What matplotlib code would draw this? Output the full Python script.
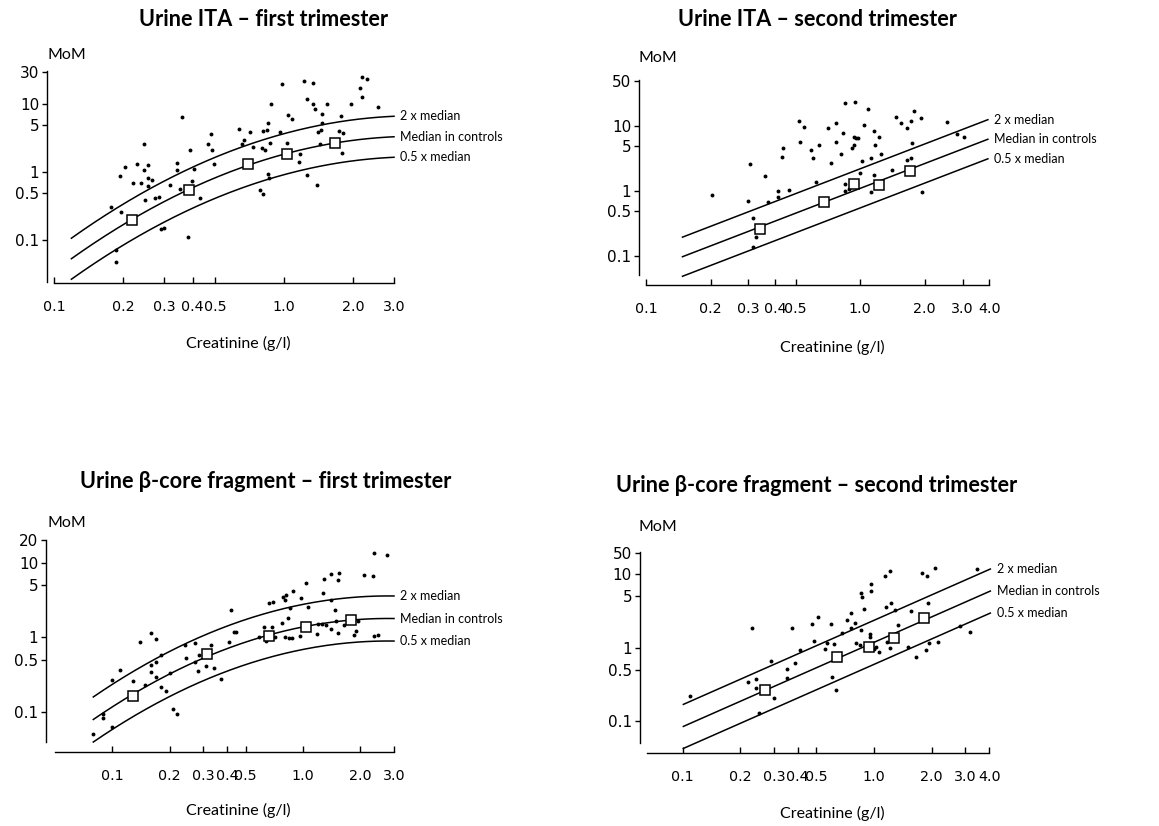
# headless plotting
import matplotlib  # nopep8
matplotlib.use('Agg')  # nopep8

import numpy as np
import matplotlib.pyplot as plt

FIG_W, FIG_H = 1159, 826

# ---- Urine ITA, first trimester
ita1_x = [0.177, 0.186, 0.186, 0.194, 0.196, 0.204, 0.221, 0.230, 0.238, 0.247,
          0.247, 0.248, 0.257, 0.257, 0.257, 0.266, 0.274, 0.285, 0.292, 0.301,
          0.319, 0.343, 0.343, 0.353, 0.361, 0.381, 0.389, 0.399, 0.406, 0.431,
          0.467, 0.479, 0.485, 0.497, 0.634, 0.653, 0.671, 0.713, 0.735, 0.788,
          0.799, 0.807, 0.813, 0.826, 0.846, 0.849, 0.854, 0.860, 0.872, 0.877,
          0.957, 0.977, 1.024, 1.038, 1.084, 1.159, 1.171, 1.223, 1.256, 1.260,
          1.338, 1.338, 1.357, 1.393, 1.403, 1.427, 1.451, 1.456, 1.456, 1.536,
          1.733, 1.762, 1.786, 1.798, 1.942, 2.133, 2.169, 2.184, 2.289, 2.565]
ita1_y = [0.309, 0.073, 0.048, 0.873, 0.258, 1.20, 0.697, 1.34, 0.697, 2.58,
          1.07, 0.388, 1.28, 0.835, 0.637, 0.763, 0.419, 0.429, 0.148, 0.154,
          0.659, 1.36, 1.08, 0.562, 6.51, 0.112, 2.11, 0.737, 1.13, 0.424,
          2.58, 3.62, 2.11, 1.30, 4.34, 2.55, 2.96, 3.88, 2.36, 0.556,
          2.25, 0.486, 3.96, 2.11, 4.15, 0.956, 5.31, 0.835, 2.70, 10.1,
          3.88, 19.5, 2.64, 6.89, 5.95, 1.42, 1.84, 22.0, 11.8, 0.924,
          20.6, 9.89, 8.44, 0.651, 3.92, 2.58, 4.15, 7.05, 5.20, 10.0,
          4.05, 6.74, 1.90, 3.70, 10.1, 17.2, 25.2, 12.8, 23.3, 9.03]
ita1_med_x = [0.219, 0.386, 0.696, 1.03, 1.67]
ita1_med_y = [0.20, 0.556, 1.31, 1.86, 2.64]
# log10(MoM) = a + b*log10(creat) + c*log10(creat)^2
ita1_coef = [0.265, 0.918, -0.804]
ita1_range = [0.119, 3.0]

# ---- Urine ITA, second trimester
ita2_x = [0.203, 0.299, 0.307, 0.315, 0.326, 0.315, 0.360, 0.369, 0.411, 0.411,
          0.429, 0.438, 0.464, 0.519, 0.525, 0.546, 0.586, 0.599, 0.621, 0.641,
          0.704, 0.729, 0.767, 0.770, 0.812, 0.833, 0.845, 0.851, 0.851, 0.885,
          0.918, 0.931, 0.938, 0.944, 0.951, 0.972, 1.000, 1.018, 1.044, 1.090,
          1.118, 1.118, 1.158, 1.162, 1.175, 1.222, 1.245, 1.401, 1.463, 1.555,
          1.647, 1.658, 1.731, 1.731, 1.750, 1.781, 1.914, 1.949, 2.532, 2.829,
          3.05]
ita2_y = [0.868, 0.702, 2.60, 0.380, 0.194, 0.139, 1.72, 0.677, 1.00, 0.809,
          3.38, 4.64, 1.05, 12.1, 5.67, 9.54, 4.22, 3.22, 1.38, 5.16,
          9.21, 2.66, 11.1, 5.61, 3.75, 7.80, 22.9, 1.28, 1.00, 1.08,
          4.64, 6.69, 5.16, 23.7, 6.61, 6.46, 1.89, 2.89, 10.2, 18.0,
          3.26, 0.977, 1.76, 8.48, 5.04, 6.69, 3.75, 2.13, 13.9, 11.0,
          9.32, 3.03, 12.1, 3.22, 5.41, 16.8, 13.3, 0.977, 11.5, 7.44,
          6.85]
ita2_med_x = [0.341, 0.675, 0.938, 1.219, 1.70]
ita2_med_y = [0.257, 0.685, 1.27, 1.22, 2.01]
ita2_coef = [0.041, 1.268, 0.0]
ita2_range = [0.148, 3.94]

# ---- Urine beta-core fragment, first trimester
bcf1_x = [0.0791, 0.0889, 0.0889, 0.0996, 0.0996, 0.110, 0.129, 0.139, 0.149, 0.159,
          0.160, 0.160, 0.169, 0.169, 0.169, 0.180, 0.180, 0.190, 0.201, 0.209,
          0.218, 0.240, 0.243, 0.271, 0.272, 0.280, 0.285, 0.311, 0.330, 0.340,
          0.371, 0.409, 0.417, 0.435, 0.445, 0.589, 0.623, 0.641, 0.665, 0.689,
          0.695, 0.712, 0.775, 0.788, 0.800, 0.807, 0.817, 0.837, 0.847, 0.858,
          0.875, 0.886, 0.968, 0.980, 1.041, 1.067, 1.185, 1.195, 1.260, 1.275,
          1.290, 1.317, 1.405, 1.405, 1.405, 1.463, 1.481, 1.517, 1.523, 1.542,
          1.638, 1.857, 1.895, 1.942, 2.097, 2.330, 2.358, 2.367, 2.475, 2.773]
bcf1_y = [0.0511, 0.0941, 0.0841, 0.266, 0.0639, 0.361, 0.261, 0.876, 0.228, 0.421,
          1.13, 0.347, 0.95, 0.466, 0.291, 0.583, 0.215, 0.190, 0.333, 0.109,
          0.096, 0.791, 0.537, 0.832, 0.475, 0.350, 0.583, 0.416, 0.791, 0.392,
          0.280, 0.858, 2.31, 1.19, 1.19, 1.02, 1.39, 0.903, 2.92, 1.36,
          3.00, 1.02, 1.58, 3.46, 3.16, 1.02, 3.65, 1.84, 0.97, 2.45,
          0.98, 4.16, 1.04, 3.33, 5.26, 2.58, 1.10, 1.53, 1.53, 3.88,
          6.01, 1.46, 6.93, 1.28, 3.13, 2.33, 1.63, 5.77, 1.13, 7.22,
          1.46, 1.07, 1.21, 1.65, 6.79, 6.59, 1.03, 13.3, 1.07, 12.8]
bcf1_med_x = [0.129, 0.312, 0.664, 1.042, 1.79]
bcf1_med_y = [0.166, 0.594, 1.05, 1.39, 1.73]
bcf1_coef = [0.14, 0.504, -0.564]
bcf1_range = [0.0794, 3.0]

# ---- Urine beta-core fragment, second trimester
bcf2_x = [0.110, 0.220, 0.231, 0.242, 0.242, 0.250, 0.291, 0.302, 0.352, 0.352,
          0.373, 0.385, 0.412, 0.473, 0.485, 0.507, 0.556, 0.568, 0.598, 0.606,
          0.618, 0.633, 0.684, 0.723, 0.756, 0.762, 0.797, 0.810, 0.840, 0.851,
          0.858, 0.865, 0.886, 0.949, 0.953, 0.960, 0.960, 0.996, 1.020, 1.063,
          1.138, 1.157, 1.166, 1.214, 1.219, 1.234, 1.285, 1.327, 1.499, 1.567,
          1.665, 1.777, 1.866, 1.896, 1.911, 1.934, 2.080, 2.148, 2.807, 3.156,
          3.449]
bcf2_y = [0.215, 0.337, 1.84, 0.374, 0.279, 0.127, 0.665, 0.202, 0.506, 0.386,
          1.84, 0.624, 0.939, 2.13, 1.23, 2.62, 0.959, 1.16, 2.13, 0.390,
          1.12, 0.265, 1.59, 2.36, 1.87, 3.00, 2.15, 1.17, 1.09, 5.51,
          1.71, 4.86, 3.37, 1.54, 1.41, 7.31, 5.99, 0.959, 1.01, 0.873,
          9.49, 3.59, 1.18, 1.00, 11.1, 4.11, 3.23, 2.06, 1.02, 3.16,
          0.731, 10.3, 0.920, 9.49, 4.02, 1.16, 12.3, 1.20, 1.95, 1.62,
          11.7]
bcf2_med_x = [0.270, 0.643, 0.944, 1.27, 1.83]
bcf2_med_y = [0.259, 0.738, 1.03, 1.37, 2.51]
bcf2_coef = [0.071, 1.154, 0.0]
bcf2_range = [0.101, 4.05]

titles = ['Urine ITA \u2013 first trimester',
          'Urine ITA \u2013 second trimester',
          'Urine \u03b2-core fragment \u2013 first trimester',
          'Urine \u03b2-core fragment \u2013 second trimester']
curve_labels = ['2 x median', 'Median in controls', '0.5 x median']
curve_factors = [2.0, 1.0, 0.5]

xticks_3 = [0.1, 0.2, 0.3, 0.4, 0.5, 1.0, 2.0, 3.0]
xticks_4 = [0.1, 0.2, 0.3, 0.4, 0.5, 1.0, 2.0, 3.0, 4.0]

FONT = ['Lato', 'DejaVu Sans']
TITLE_FONT = ['Lato', 'DejaVu Serif']


def fx(px):
    return px / FIG_W


def fy(py):
    return 1 - py / FIG_H


def draw_panel(fig, box, xlim, ylim, xticks, yticks, ylabels, offs,
               xs, ys, mx, my, coef, crange, title, tpos, mompos, cpos):
    left, top, right, bottom = box
    ax = fig.add_axes([fx(left), fy(bottom), fx(right - left), (bottom - top) / FIG_H])
    ax.set_xscale('log')
    ax.set_yscale('log')
    ax.set_xlim(*xlim)
    ax.set_ylim(*ylim)

    # regression curve for controls and the 2x / 0.5x limits
    cx = np.geomspace(crange[0], crange[1], 200)
    u = np.log10(cx)
    med = 10 ** (coef[0] + coef[1] * u + coef[2] * u ** 2)
    for f, lab in zip(curve_factors, curve_labels):
        ax.plot(cx, med * f, color='black', lw=1.1, clip_on=False, zorder=2)
        ax.annotate(lab, (cx[-1], med[-1] * f), xytext=(4.5, 0),
                    textcoords='offset points', ha='left', va='center',
                    fontsize=9, family=FONT, annotation_clip=False)

    ax.plot(xs, ys, 'o', ms=2.8, color='black', mew=0, zorder=3, clip_on=False)
    ax.plot(mx, my, 's', ms=7.3, mfc='white', mec='black', mew=1.1, zorder=4)

    ax.minorticks_off()
    ax.set_xticks(xticks)
    ax.set_xticklabels(['%.1f' % t for t in xticks])
    ax.set_yticks(yticks)
    ax.set_yticklabels(ylabels)
    ax.minorticks_off()
    ax.tick_params(axis='x', direction='in', length=4.5, width=1.0, pad=12,
                   labelsize=10.3)
    ax.tick_params(axis='y', direction='out', length=3.5, width=1.0, pad=2,
                   labelsize=11)
    for lab in ax.get_xticklabels() + ax.get_yticklabels():
        lab.set_family(FONT)

    ax.spines['top'].set_visible(False)
    ax.spines['right'].set_visible(False)
    ax.spines['left'].set_position(('outward', offs[0] * 0.72))
    ax.spines['bottom'].set_position(('outward', offs[1] * 0.72))
    ax.spines['left'].set_linewidth(1.0)
    ax.spines['bottom'].set_linewidth(1.0)
    ax.patch.set_visible(False)

    fig.text(fx(tpos[0]), fy(tpos[1]), title, ha='center', va='center',
             fontsize=15.6, fontweight='bold', family=TITLE_FONT)
    fig.text(fx(mompos[0]), fy(mompos[1]), 'MoM', ha='left', va='center',
             fontsize=11.5, family=FONT)
    fig.text(fx(cpos[0]), fy(cpos[1]), 'Creatinine (g/l)', ha='center',
             va='center', fontsize=11.5, family=FONT)
    return ax


def main():
    fig = plt.figure(figsize=(FIG_W / 100, FIG_H / 100), dpi=100)

    draw_panel(fig, (54, 71, 394, 282), (0.1, 3.0), (0.0244, 30.6),
               xticks_3, [0.1, 0.5, 1, 5, 10, 30],
               ['0.1', '0.5', '1', '5', '10', '30'], (7, 1),
               ita1_x, ita1_y, ita1_med_x, ita1_med_y, ita1_coef, ita1_range,
               titles[0], (264, 20), (48, 55), (238, 343))

    draw_panel(fig, (646, 80, 989.3, 275), (0.1, 4.0), (0.051, 51),
               xticks_4, [0.1, 0.5, 1, 5, 10, 50],
               ['0.1', '0.5', '1', '5', '10', '50'], (7, 10),
               ita2_x, ita2_y, ita2_med_x, ita2_med_y, ita2_coef, ita2_range,
               titles[1], (817, 20), (639, 58), (832, 347))

    draw_panel(fig, (55, 540, 394, 742), (0.05, 3.0), (0.040, 19.2),
               xticks_3, [0.1, 0.5, 1, 5, 10, 20],
               ['0.1', '0.5', '1', '5', '10', '20'], (9, 10),
               bcf1_x, bcf1_y, bcf1_med_x, bcf1_med_y, bcf1_coef, bcf1_range,
               titles[2], (266, 482), (48, 523), (238, 810))

    # the top tick of this panel is labelled 50 in the original, at ~19
    draw_panel(fig, (646.7, 551.7, 989.3, 743), (0.065, 4.0), (0.0496, 20.4),
               xticks_4, [0.1, 0.5, 1, 5, 10, 19.3],
               ['0.1', '0.5', '1', '5', '10', '50'], (7, 10),
               bcf2_x, bcf2_y, bcf2_med_x, bcf2_med_y, bcf2_coef, bcf2_range,
               titles[3], (817, 485), (639, 527), (832, 813))

    fig.savefig('out.png', dpi=100)
    plt.close(fig)


if __name__ == "__main__":
    main()
